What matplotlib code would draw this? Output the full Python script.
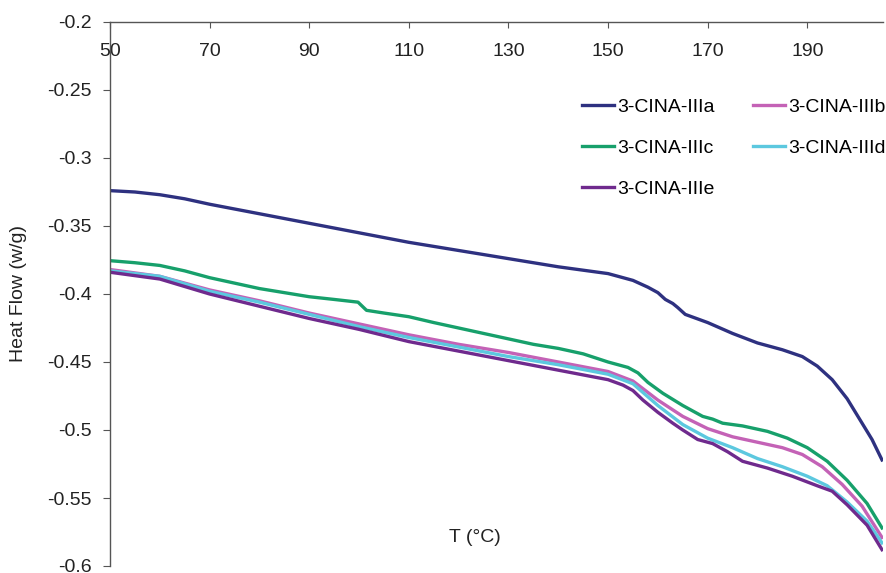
import numpy as np
import matplotlib
matplotlib.use('Agg')
import matplotlib.pyplot as plt
from matplotlib.ticker import FuncFormatter

plt.rcParams['font.family'] = ['Liberation Sans', 'DejaVu Sans']

# 3-CINA-IIIa
temp_a = [50, 55, 60, 65, 70, 80, 90, 100, 110, 120, 130, 140, 150, 155, 158, 160,
          161.5, 163, 164, 165.5, 170, 175, 180, 185, 189, 192, 195, 198, 201, 203, 205]
flow_a = [-0.324, -0.325, -0.327, -0.330, -0.334, -0.341, -0.348, -0.355, -0.362, -0.368,
          -0.374, -0.380, -0.385, -0.390, -0.395, -0.399, -0.404, -0.407, -0.410, -0.415,
          -0.421, -0.429, -0.436, -0.441, -0.446, -0.453, -0.463, -0.477, -0.495, -0.507, -0.522]

# 3-CINA-IIIb
temp_b = [50, 60, 70, 80, 90, 100, 110, 120, 130, 140, 150, 155, 160, 165, 170, 175,
          180, 185, 189, 193, 197, 201, 205]
flow_b = [-0.382, -0.387, -0.397, -0.405, -0.414, -0.422, -0.430, -0.437, -0.443, -0.450,
          -0.457, -0.464, -0.478, -0.490, -0.499, -0.505, -0.509, -0.513, -0.518, -0.527,
          -0.540, -0.556, -0.579]

# 3-CINA-IIIc
temp_c = [50, 55, 60, 65, 70, 75, 80, 85, 90, 95, 99.8, 101.5, 105, 110, 115, 120, 125,
          130, 135, 140, 145, 150, 154, 156, 158, 161, 165, 169, 171, 173, 177, 182, 186,
          190, 194, 198, 202, 205]
flow_c = [-0.3755, -0.377, -0.379, -0.383, -0.388, -0.392, -0.396, -0.399, -0.402, -0.404,
          -0.406, -0.412, -0.414, -0.4167, -0.421, -0.425, -0.429, -0.433, -0.437, -0.440,
          -0.444, -0.450, -0.454, -0.458, -0.465, -0.473, -0.482, -0.490, -0.492, -0.495,
          -0.497, -0.501, -0.506, -0.513, -0.523, -0.537, -0.554, -0.572]

# 3-CINA-IIId
temp_d = [50, 60, 70, 80, 90, 100, 110, 120, 130, 140, 150, 155, 160, 165, 170, 175,
          180, 185, 190, 194, 198, 202, 205]
flow_d = [-0.383, -0.387, -0.398, -0.406, -0.415, -0.424, -0.432, -0.439, -0.446, -0.452,
          -0.459, -0.466, -0.482, -0.496, -0.506, -0.513, -0.521, -0.527, -0.534, -0.541,
          -0.553, -0.567, -0.583]

# 3-CINA-IIIe
temp_e = [50, 60, 70, 80, 90, 100, 110, 120, 130, 140, 150, 153, 155, 157, 160, 163, 165,
          168, 171, 174, 177, 182, 187, 192, 195, 198, 202, 205]
flow_e = [-0.384, -0.389, -0.400, -0.409, -0.418, -0.426, -0.435, -0.442, -0.449, -0.456,
          -0.463, -0.467, -0.471, -0.478, -0.487, -0.495, -0.500, -0.507, -0.510, -0.516,
          -0.523, -0.528, -0.534, -0.541, -0.545, -0.555, -0.570, -0.588]

series = [
    ('3-CINA-IIIa', temp_a, flow_a, '#2e3180'),
    ('3-CINA-IIIb', temp_b, flow_b, '#c462b6'),
    ('3-CINA-IIIc', temp_c, flow_c, '#17a06b'),
    ('3-CINA-IIId', temp_d, flow_d, '#5cc8df'),
    ('3-CINA-IIIe', temp_e, flow_e, '#6f2a8d'),
]

x_ticks = [50, 70, 90, 110, 130, 150, 170, 190]
y_ticks = [-0.6, -0.55, -0.5, -0.45, -0.4, -0.35, -0.3, -0.25, -0.2]

FS = 14

fig = plt.figure(figsize=(8.87, 5.73), dpi=100)
ax = fig.add_axes([110 / 887, 1 - 566 / 573, 773 / 887, 544 / 573])

lines = {}
for name, t, f, col in series:
    lines[name], = ax.plot(t, f, color=col, linewidth=2.4, label=name)

ax.set_xlim(50, 205.2)
ax.set_ylim(-0.6, -0.2)
ax.set_xticks(x_ticks)
ax.set_yticks(y_ticks)
ax.yaxis.set_major_formatter(FuncFormatter(lambda v, p: '%g' % v))

# x axis sits on top, labels drawn just under it
ax.xaxis.tick_top()
ax.tick_params(axis='x', direction='in', length=4, pad=-27, labelsize=FS,
               color='#555555', labelcolor='#222222')
ax.tick_params(axis='y', direction='out', length=5, pad=8, labelsize=FS,
               color='#555555', labelcolor='#222222')

for s in ['right', 'bottom']:
    ax.spines[s].set_visible(False)
for s in ['top', 'left']:
    ax.spines[s].set_color('#555555')
    ax.spines[s].set_linewidth(1.0)

fig.text(19 / 887, 1 - 294 / 573, 'Heat Flow (w/g)', rotation=90,
         ha='center', va='center', fontsize=FS, color='#222222')
fig.text(475 / 887, 1 - 538 / 573, 'T (°C)', ha='center', va='center',
         fontsize=FS, color='#222222')

# row-wise legend order: a b / c d / e
order = ['3-CINA-IIIa', '3-CINA-IIIc', '3-CINA-IIIe', '3-CINA-IIIb', '3-CINA-IIId']
leg = ax.legend([lines[n] for n in order], order, ncol=2, loc='upper left',
                bbox_to_anchor=(582 / 887, 1 - 98 / 573),
                bbox_transform=fig.transFigure, frameon=False, fontsize=FS,
                handlelength=1.65, handletextpad=0.15, columnspacing=2.0,
                labelspacing=1.2, borderpad=0, borderaxespad=0)

plt.savefig('out.png', dpi=100)
plt.close()
